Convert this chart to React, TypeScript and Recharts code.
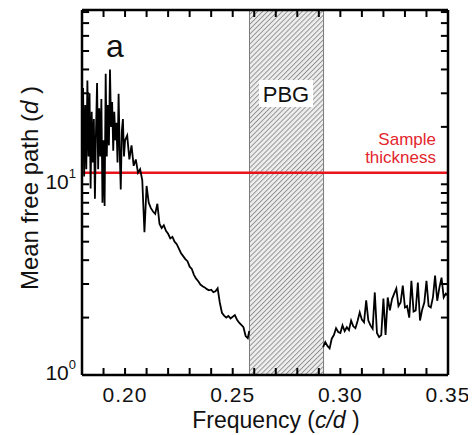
import React from "react";
import { LineChart, Line, XAxis, YAxis, ReferenceArea, ReferenceLine } from "recharts";

// frequency (c/d) and mean free path (d), below the gap
const freqLow = [
  0.1800, 0.1805, 0.1810, 0.1815, 0.1820, 0.1825, 0.1830, 0.1835, 0.1840, 0.1845,
  0.1850, 0.1855, 0.1860, 0.1865, 0.1870, 0.1875, 0.1880, 0.1885, 0.1890, 0.1895,
  0.1900, 0.1905, 0.1910, 0.1915, 0.1920, 0.1925, 0.1930, 0.1935, 0.1940, 0.1945,
  0.1950, 0.1955, 0.1960, 0.1965, 0.1970, 0.1975, 0.1980, 0.1985, 0.1990, 0.1995,
  0.200, 0.201, 0.202, 0.203, 0.204, 0.205, 0.206, 0.207, 0.208, 0.209,
  0.210, 0.211, 0.212, 0.213, 0.214, 0.215, 0.216, 0.217, 0.218, 0.219,
  0.220, 0.221, 0.222, 0.223, 0.224, 0.225, 0.226, 0.227, 0.228, 0.229,
  0.230, 0.231, 0.232, 0.233, 0.234, 0.235, 0.236, 0.237, 0.238, 0.239,
  0.240, 0.241, 0.242, 0.243, 0.244, 0.245, 0.246, 0.247, 0.248, 0.249,
  0.250, 0.251, 0.252, 0.253, 0.254, 0.255, 0.256, 0.257, 0.2577,
];
const mfpLow = [
  18, 32, 11, 26, 12, 35, 14, 30, 9.5, 24,
  13, 22, 8.4, 19, 34, 12, 25, 14, 28, 8.0,
  17, 7.7, 38, 14, 26, 16, 40, 20, 27, 15,
  24, 17, 21, 13, 29.8, 15, 9.4, 19, 22, 14,
  17, 18, 13.5, 16, 12.5, 13.5, 11.5, 12, 10.5, 5.6,
  9.8, 8.0, 7.5, 7.2, 7.0, 7.9, 6.2, 5.9, 6.1, 5.7,
  5.5, 5.2, 5.3, 5.0, 4.85, 4.6, 4.35, 4.2, 4.05, 3.95,
  3.7, 3.6, 3.35, 3.2, 3.1, 2.98, 2.92, 2.88, 2.82, 2.78,
  2.8, 2.72, 2.75, 2.85, 2.4, 2.12, 2.05, 2.0, 2.04, 1.98,
  2.02, 2.06, 1.95, 1.88, 1.83, 1.78, 1.6, 1.56, 1.7,
];

// above the gap
const freqHigh = [
  0.292, 0.293, 0.294, 0.295, 0.296, 0.297, 0.298, 0.299,
  0.300, 0.301, 0.302, 0.303, 0.304, 0.305, 0.306, 0.307, 0.308, 0.309,
  0.310, 0.311, 0.312, 0.313, 0.314, 0.315, 0.316, 0.317, 0.318, 0.319,
  0.320, 0.321, 0.322, 0.323, 0.324, 0.325, 0.326, 0.327, 0.328, 0.329,
  0.330, 0.331, 0.332, 0.333, 0.334, 0.335, 0.336, 0.337, 0.338, 0.339,
  0.340, 0.341, 0.342, 0.343, 0.344, 0.345, 0.346, 0.347, 0.348, 0.349,
  0.350,
];
const mfpHigh = [
  1.4, 1.49, 1.42, 1.38, 1.55, 1.62, 1.76, 1.68,
  1.66, 1.82, 1.7, 1.78, 1.72, 1.93, 1.8, 1.76, 1.92, 2.13,
  1.95, 1.89, 2.46, 1.93, 1.82, 1.75, 2.71, 1.66, 1.58, 1.62,
  2.52, 1.62, 2.55, 2.18, 2.5, 2.67, 2.84, 2.3, 2.4, 2.94,
  2.26, 2.3, 2.0, 3.12, 2.15, 2.18, 3.05, 1.93, 2.2, 2.4,
  3.12, 2.3, 2.26, 2.55, 3.32, 2.45, 2.87, 3.24, 2.55, 2.67,
  2.61,
];

const xTicks = [0.19, 0.2, 0.21, 0.22, 0.23, 0.24, 0.25, 0.26, 0.27, 0.28, 0.29, 0.3, 0.31, 0.32, 0.33, 0.34];
const xLabels = [0.2, 0.25, 0.3, 0.35];
const yTicks = [2, 3, 4, 5, 6, 7, 8, 9, 10, 20, 30, 40, 50, 60, 70, 80];
const yLabels = [1, 10];
const yExponents = ["0", "1"];

const xMin = 0.18;
const xMax = 0.35;
const yMin = 1;
const yMax = 82;

const sampleThickness = 11.5;
const pbgStart = 0.2578;
const pbgEnd = 0.2922;

const lowData = freqLow.map((f, i) => ({ f, mfp: mfpLow[i] }));
const highData = freqHigh.map((f, i) => ({ f, mfp: mfpHigh[i] }));

const font = "'Liberation Sans', Arial, sans-serif";

// inward tick length, as a fraction of each axis (about 7px)
const xTickFrac = 0.0033;
const yTickFactor = 1.088;

const BottomTick = (props: any) => {
  const { x, y, payload } = props;
  const v = payload.value;
  if (!xLabels.some((l) => Math.abs(l - v) < 1e-6)) return <g />;
  return (
    <text x={x} y={y + 27} textAnchor="middle" fontSize={21} letterSpacing={1} fontFamily={font} fill="#111">
      {v.toFixed(2)}
    </text>
  );
};

const LeftTick = (props: any) => {
  const { x, y, payload } = props;
  const idx = yLabels.indexOf(payload.value);
  if (idx < 0) return <g />;
  return (
    <text x={x - 6} y={y + 5} textAnchor="end" fontSize={21} fontFamily={font} fill="#111">
      <tspan>10</tspan>
      <tspan dy={-11} fontSize={13}>{yExponents[idx]}</tspan>
    </text>
  );
};

const frame = { stroke: "#000", strokeWidth: 2.5 };
const tickStroke = "#000";

export default function App() {
  return (
    <div style={{ position: "relative", width: 468, height: 427 }}>
      <LineChart width={468} height={427} margin={{ top: 1, right: 0, left: 0, bottom: 0 }}>
        <XAxis
          xAxisId="bottom"
          dataKey="f"
          type="number"
          domain={[xMin, xMax]}
          ticks={[...xTicks, xMax]}
          interval={0}
          height={60}
          tickSize={0}
          tickMargin={0}
          tick={<BottomTick />}
          tickLine={false}
          axisLine={frame}
          allowDataOverflow
        />
        <XAxis
          xAxisId="top"
          orientation="top"
          dataKey="f"
          type="number"
          domain={[xMin, xMax]}
          height={1}
          tick={false}
          tickLine={false}
          axisLine={frame}
          allowDataOverflow
        />
        <YAxis
          yAxisId="left"
          scale="log"
          domain={[yMin, yMax]}
          ticks={[yMin, ...yTicks]}
          interval={0}
          width={74}
          tickSize={0}
          tickMargin={0}
          tick={<LeftTick />}
          tickLine={false}
          axisLine={frame}
          allowDataOverflow
        />
        <YAxis
          yAxisId="right"
          orientation="right"
          scale="log"
          domain={[yMin, yMax]}
          width={28}
          tick={false}
          tickLine={false}
          axisLine={frame}
          allowDataOverflow
        />
        <ReferenceArea
          xAxisId="bottom"
          yAxisId="left"
          x1={pbgStart}
          x2={pbgEnd}
          fill="url(#pbgHatch)"
          fillOpacity={1}
          stroke="#7a7a7a"
          strokeWidth={1}
        />
        {xTicks.map((t) => (
          <ReferenceLine
            key={"b" + t}
            xAxisId="bottom"
            yAxisId="left"
            segment={[{ x: t, y: yMin }, { x: t, y: yMin * yTickFactor }]}
            stroke={tickStroke}
            strokeWidth={2}
          />
        ))}
        {xTicks.map((t) => (
          <ReferenceLine
            key={"t" + t}
            xAxisId="bottom"
            yAxisId="left"
            segment={[{ x: t, y: yMax / yTickFactor }, { x: t, y: yMax }]}
            stroke={tickStroke}
            strokeWidth={2}
          />
        ))}
        {yTicks.map((t) => (
          <ReferenceLine
            key={"l" + t}
            xAxisId="bottom"
            yAxisId="left"
            segment={[{ x: xMin, y: t }, { x: xMin + xTickFrac, y: t }]}
            stroke={tickStroke}
            strokeWidth={2}
          />
        ))}
        {yTicks.map((t) => (
          <ReferenceLine
            key={"r" + t}
            xAxisId="bottom"
            yAxisId="left"
            segment={[{ x: xMax - xTickFrac, y: t }, { x: xMax, y: t }]}
            stroke={tickStroke}
            strokeWidth={2}
          />
        ))}
        <ReferenceLine xAxisId="bottom" yAxisId="left" y={sampleThickness} stroke="#e8141c" strokeWidth={2.5} />
        <Line
          xAxisId="bottom"
          yAxisId="left"
          data={lowData}
          dataKey="mfp"
          type="linear"
          stroke="#000"
          strokeWidth={1.8}
          dot={false}
          isAnimationActive={false}
        />
        <Line
          xAxisId="bottom"
          yAxisId="left"
          data={highData}
          dataKey="mfp"
          type="linear"
          stroke="#000"
          strokeWidth={1.8}
          dot={false}
          isAnimationActive={false}
        />
      </LineChart>
      <svg
        width={468}
        height={427}
        style={{ position: "absolute", left: 0, top: 0, pointerEvents: "none" }}
        fontFamily={font}
      >
        <defs>
          <pattern id="pbgHatch" patternUnits="userSpaceOnUse" width="3.5" height="3.5" patternTransform="rotate(45)">
            <rect width="3.5" height="3.5" fill="#eeeeee" />
            <line x1="0.5" y1="0" x2="0.5" y2="3.5" stroke="#8c8c8c" strokeWidth="0.9" />
          </pattern>
        </defs>
        <text x={98} y={49} fontSize={32} fill="#111">a</text>
        <rect x={251} y={72} width={54} height={27} fill="#fff" />
        <text x={278} y={94} fontSize={22} textAnchor="middle" fill="#111">PBG</text>
        <text x={428} y={137} fontSize={17} textAnchor="end" fill="#e3262e">Sample</text>
        <text x={428} y={155} fontSize={17} textAnchor="end" fill="#e3262e">thickness</text>
        <text x={268} y={420} fontSize={23} textAnchor="middle" fill="#111">
          Frequency (<tspan fontStyle="italic">c/d</tspan> )
        </text>
        <text transform="translate(30,180) rotate(-90)" fontSize={24} textAnchor="middle" fill="#111">
          Mean free path (<tspan fontStyle="italic">d</tspan> )
        </text>
      </svg>
    </div>
  );
}
